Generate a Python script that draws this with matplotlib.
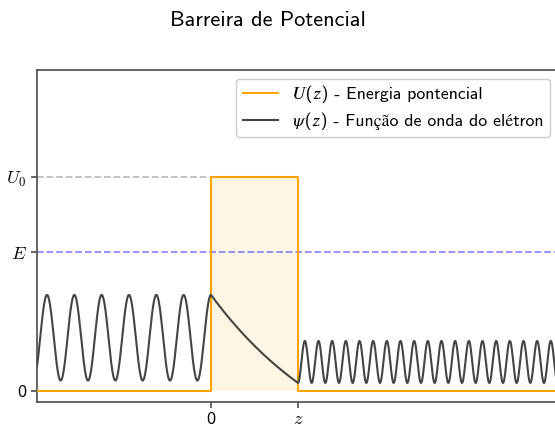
import numpy as np
import matplotlib
matplotlib.use("Agg")
import matplotlib.pyplot as plt

plt.rcParams['font.family'] = ['cmss10', 'STIXGeneral', 'DejaVu Sans']
plt.rcParams['mathtext.fontset'] = 'cm'
plt.rcParams['axes.unicode_minus'] = False

# ---- data ----
x_limits = [-2.0, 4.0]
barrier_start = 0.0
barrier_end = 1.0
U0 = 1.0
E = 0.65
# incident region wave
k_left = 20.0
offset_left = 0.25
amp_left = 0.20
# transmitted region wave
k_right = 40.0
offset_right = 0.137
amp_right = 0.098
# evanescent decay inside barrier
psi_in = offset_left + amp_left
psi_out = offset_right - amp_right
kappa = 0.63
x_tick_labels = ['0', '$z$']
y_tick_labels = ['0', '$E$', '$U_0$']
label_U = '\U0001D448(\U0001D467) - Energia pontencial'
label_psi = '\U0001D713(\U0001D467) - Função de onda do elétron'
title = 'Barreira de Potencial'

fig = plt.figure(figsize=(5.55, 4.26), dpi=100)
ax = fig.add_axes([37/555, 24/426, 522/555, 332/426])

# potential
xu = [x_limits[0], barrier_start, barrier_start, barrier_end, barrier_end, x_limits[1]]
yu = [0, 0, U0, U0, 0, 0]
ax.plot(xu, yu, color='orange', lw=1.5, label=label_U, zorder=3)
ax.fill_between([barrier_start, barrier_end], 0, U0, color='orange', alpha=0.1, lw=0)

# wave function
x1 = np.linspace(x_limits[0], barrier_start, 800)
psi1 = offset_left + amp_left * np.cos(k_left * (x1 - barrier_start))
x2 = np.linspace(barrier_start, barrier_end, 300)
t = x2 - barrier_start
w = barrier_end - barrier_start
psi2 = psi_out + (psi_in - psi_out) * (np.exp(-kappa * t) - np.exp(-kappa * w)) / (1 - np.exp(-kappa * w))
x3 = np.linspace(barrier_end, x_limits[1], 1500)
psi3 = offset_right - amp_right * np.cos(k_right * (x3 - barrier_end))
xs = np.concatenate([x1, x2, x3])
ps = np.concatenate([psi1, psi2, psi3])
ax.plot(xs, ps, color='#444444', lw=1.5, label=label_psi, zorder=4)

# reference levels
ax.plot([x_limits[0], barrier_start], [U0, U0], color='gray', ls='--', lw=1.3, alpha=0.5)
ax.axhline(E, color='blue', ls='--', lw=1.3, alpha=0.45)

ax.set_xlim(*x_limits)
ax.set_ylim(-0.05, 1.5)
ax.set_xticks([barrier_start, barrier_end])
ax.set_xticklabels(x_tick_labels, fontsize=13)
ax.set_yticks([0, E, U0])
ax.set_yticklabels(y_tick_labels, fontsize=13)
for s in ax.spines.values():
    s.set_color('#4d4d4d')
    s.set_linewidth(1.2)
ax.tick_params(colors='#4d4d4d', labelcolor='black', length=4, width=1.2)

ax.legend(loc='upper right', fontsize=12.8, framealpha=1, edgecolor='#cccccc',
          fancybox=True, handlelength=2.0)

fig.suptitle(title, fontsize=16, x=0.482, y=0.975)
fig.savefig('out.png', dpi=100)
